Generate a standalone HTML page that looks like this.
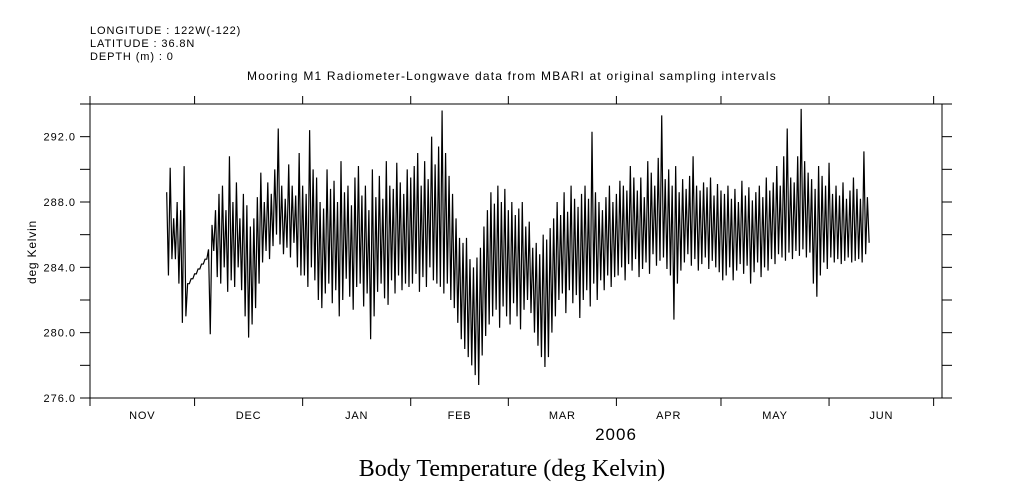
<!DOCTYPE html>
<html><head><meta charset="utf-8"><style>
html,body{margin:0;padding:0;background:#fff;}
svg{display:block;font-family:"Liberation Sans",sans-serif;}
</style></head><body>
<svg id="chart" width="1009" height="504" viewBox="0 0 1009 504" xmlns="http://www.w3.org/2000/svg">
<rect width="1009" height="504" fill="#fff"/>
<g font-size="11" letter-spacing="0.9" fill="#000">
<text x="90" y="34">LONGITUDE : 122W(-122)</text>
<text x="90" y="47">LATITUDE : 36.8N</text>
<text x="90" y="60">DEPTH (m) : 0</text>
</g>
<text x="512" y="80" text-anchor="middle" font-size="12" letter-spacing="1.2">Mooring M1 Radiometer-Longwave data from MBARI  at original sampling intervals</text>
<g id="axes"></g>
<g id="series"></g>
<text x="616" y="440" text-anchor="middle" font-size="17" letter-spacing="1">2006</text>
<text x="36" y="252" text-anchor="middle" font-size="12" letter-spacing="0.8" transform="rotate(-90 36 252)">deg Kelvin</text>
<text x="512" y="476" text-anchor="middle" font-size="24" font-family="'Liberation Serif',serif">Body Temperature (deg Kelvin)</text>
</svg>
<script>
const yTicks=[276,280,284,288,292];
const yTickLabels=["276.0","280.0","284.0","288.0","292.0"];
const monthLabels=["NOV","DEC","JAN","FEB","MAR","APR","MAY","JUN"];
const monthStartDays=[0,30,61,92,120,151,181,212,242];
const startDay=22;
const hiVals=[288.6,290.1,287,288,287.5,290.2,283,283.3,283.6,283.9,284.2,284.5,285.1,286.6,287.5,
288.5,289,287.5,290.8,288,289.2,287,288.5,287.8,286.5,287,288.3,289.8,288,289.2,288.5,290,292.5,289,288.2,290.3,289,288.4,291,
289,288.5,292.4,290,289.5,288,287.6,290,288.8,289.3,288,290.5,288.6,289,287.8,289.5,290.2,288.4,289,287.5,290,288.3,289.6,288.2,290.5,289,288.8,290.4,289.2,288.5,290,
289.5,290.2,291,289,290.5,289.4,292,290.3,291.4,293.6,291,289.6,288.5,287,285.8,285.5,285.8,284.5,284,284.6,285.2,286.5,287.5,288.6,287.9,289,288,288.8,
287.5,288,287.2,287.6,288,286.5,286.8,285.2,285.5,284.8,286,285.7,286.4,287,288,287.2,288.6,287.4,289,288.2,287.7,288.5,289,288.2,292.3,288.6,288,287.5,288.3,289,288,
288.5,289.3,289,288.7,290.2,289.5,288.7,289.5,288.3,290.5,289.8,289,290.7,293.3,289.4,290,289,290.2,288.6,289.4,288.8,289.6,290.8,289,288.7,289.2,288.9,289.5,288.4,289.1,288.7,
288.5,289,288.2,288.8,288,289.3,288.4,288.9,288.1,288.6,289,288.3,289.5,288.7,289.2,290.2,289,290.8,292.5,289.5,289.2,290.8,293.7,290.5,289.8,289.4,288.8,290.2,289.6,289,290.4,
288.5,289,288.4,289.2,288.2,288.7,289.5,288.8,288.2,291.1,288.3];
const loVals=[283.5,284.5,284.5,283,280.6,281,283,283.3,283.6,283.9,284.2,284.5,279.9,285,283.4,
283,284,282.5,283.2,282.8,284,282.6,281,279.7,280.5,281.5,283,284.3,285,284.5,285.3,286,285.4,284.8,285.2,284.6,285.5,284,283.5,
283.5,282.8,284,283.2,282,281.5,282.4,283,281.8,282.6,281,282,283.3,282.2,281.4,282.8,283,281.6,282.4,279.6,281,282.5,283,282.1,281.7,283.2,282.4,283.5,282.6,283,282.8,
283,283.6,282.5,283.4,282.8,284,283.2,283,282.8,282.4,283,282,281.5,280.6,279.6,279,278.5,278,277.4,276.8,278.6,279.8,280.5,281,281.4,280.3,281.6,281,
280.5,281.8,281,280.2,281.4,282,281.2,280,279.2,278.5,277.9,278.5,280,281,282,282.4,281.2,282.6,281.8,282.3,280.9,282,282.6,281.6,283,282,283.2,282.6,283.5,282.8,283.4,
283.5,284,283.2,284.2,283.8,284.5,283.4,283.9,284.3,283.6,284.8,284.1,284.4,284.6,283.9,283.5,280.8,283,283.8,284.3,284.8,284.1,284.5,283.8,284.2,284.6,283.9,284.4,284,283.7,283.2,
283.5,284,283.2,283.8,284.2,283.6,284.1,283,283.7,284.3,283.4,284,283.8,284.5,284.2,284.8,284.6,284.4,284.9,284.5,285,284.7,285.1,284.6,284.9,283,282.2,283.5,284.3,283.9,284.6,
284.3,284.5,284.2,284.4,284.6,284.3,284.4,284.5,284.3,284.8,285.5];

const L=90,R=942,T=104,B=398,Y0=276,Y1=294,D0=0,D1=244.4;
const NS="http://www.w3.org/2000/svg";
function xs(d){return L+(d-D0)/(D1-D0)*(R-L);}
function ys(v){return B-(v-Y0)/(Y1-Y0)*(B-T);}
function mk(tag,attrs,parent){const e=document.createElementNS(NS,tag);for(const k in attrs)e.setAttribute(k,attrs[k]);parent.appendChild(e);return e;}
const ax=document.getElementById('axes');
const frame=mk('rect',{x:L,y:T,width:R-L,height:B-T,fill:'none',stroke:'#000','stroke-width':1},ax);


for(let v=Y0;v<=Y1;v+=2){
  const t1=mk('line',{x1:L-10,x2:L,y1:ys(v),y2:ys(v),stroke:'#000'},ax);
  
  
  const t2=mk('line',{x1:R,x2:R+10,y1:ys(v),y2:ys(v),stroke:'#000'},ax);
  
  
}
yTicks.forEach((v,i)=>{
  const t=mk('text',{x:L-14,y:ys(v)+4,'text-anchor':'end','font-size':11,'letter-spacing':1},ax);
  t.textContent=yTickLabels[i];
  
  
});
monthStartDays.forEach(d=>{
  const a=mk('line',{x1:xs(d),x2:xs(d),y1:T-8,y2:T,stroke:'#000'},ax);
  
  
  const b=mk('line',{x1:xs(d),x2:xs(d),y1:B,y2:B+8,stroke:'#000'},ax);
  
  
});
monthLabels.forEach((m,i)=>{
  const mid=(monthStartDays[i]+monthStartDays[i+1])/2;
  const t=mk('text',{x:xs(mid),y:419,'text-anchor':'middle','font-size':11,'letter-spacing':0.8},ax);
  t.textContent=m;
  
  
});
const n=Math.min(hiVals.length,loVals.length);
let pts=[];
for(let i=0;i<n;i++){
  const d=startDay+i;
  pts.push(xs(d).toFixed(2)+','+ys(hiVals[i]).toFixed(2));
  pts.push(xs(d+0.5).toFixed(2)+','+ys(loVals[i]).toFixed(2));
}
const pl=mk('polyline',{points:pts.join(' '),fill:'none',stroke:'#000','stroke-width':1.2},document.getElementById('series'));


</script>
</body></html>
